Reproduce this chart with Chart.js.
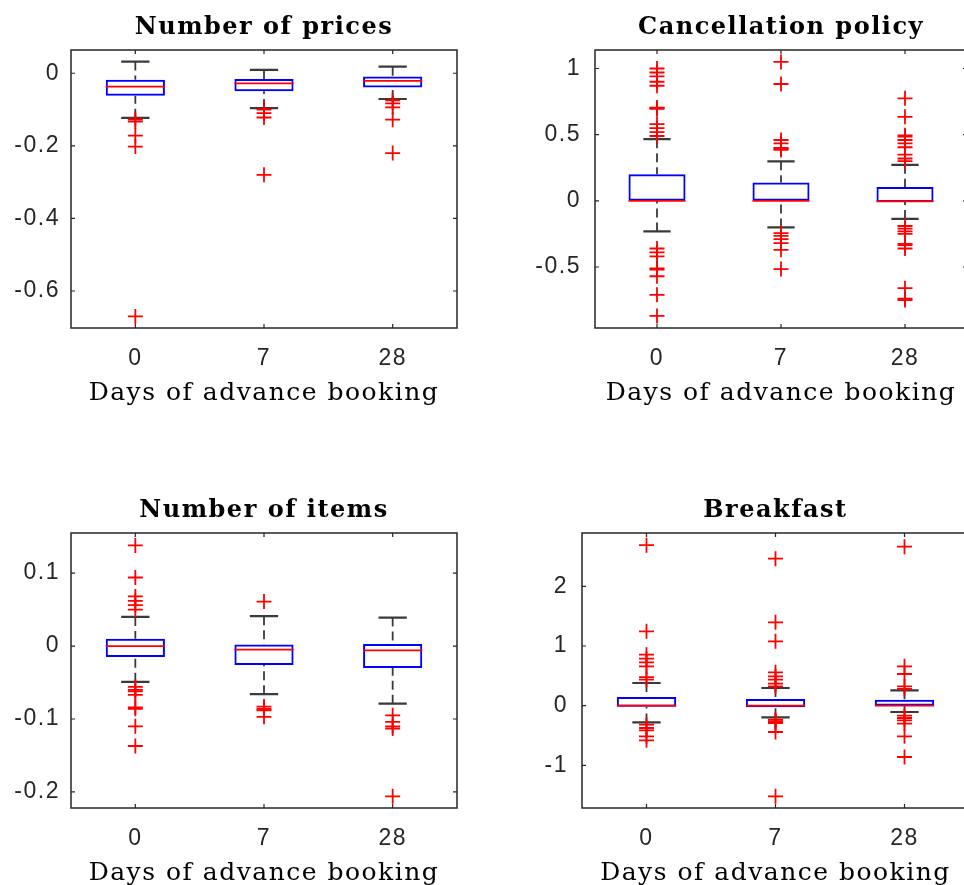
<!DOCTYPE html>
<html>
<head>
<meta charset="utf-8">
<script src="https://cdn.jsdelivr.net/npm/chart.js@4.4.0/dist/chart.umd.min.js"></script>
<style>
    html, body { margin: 0; padding: 0; background: #fff; overflow: hidden; width: 964px; height: 885px; }
    .panel { position: absolute; }
</style>
</head>
<body>
<div class="panel" style="left:0px;top:0px"><canvas id="prices" width="480" height="420"></canvas></div>
<div class="panel" style="left:480px;top:0px"><canvas id="cancel" width="500" height="420"></canvas></div>
<div class="panel" style="left:0px;top:480px"><canvas id="items" width="480" height="420"></canvas></div>
<div class="panel" style="left:480px;top:480px"><canvas id="breakfast" width="500" height="420"></canvas></div>
<script>
// Categories (days of advance booking)
const days = ['0', '7', '28'];

// Number of prices
const priceQ1 = [-0.062, -0.050, -0.039];
const priceMed = [-0.037, -0.028, -0.021];
const priceQ3 = [-0.018, -0.016, -0.009];
const priceLow = [-0.123, -0.096, -0.071];
const priceHigh = [0.032, 0.009, 0.018];
const priceOut0 = [-0.127, -0.133, -0.172, -0.202, -0.670];
const priceOut7 = [-0.100, -0.110, -0.122, -0.280];
const priceOut28 = [-0.075, -0.083, -0.094, -0.128, -0.220];
const priceTicks = [-0.6, -0.4, -0.2, 0];
const priceRange = [-0.702, 0.064];

// Cancellation policy
const cancelQ1 = [0, 0, -0.008];
const cancelMed = [0, 0, -0.003];
const cancelQ3 = [0.201, 0.138, 0.105];
const cancelLow = [-0.231, -0.201, -0.137];
const cancelHigh = [0.466, 0.299, 0.272];
const cancelOut0 = [1.0, 0.97, 0.94, 0.90, 0.87, 0.705, 0.70, 0.695, 0.58, 0.55, 0.52, 0.49,
    -0.36, -0.39, -0.42, -0.51, -0.52, -0.57, -0.71, -0.87];
const cancelOut7 = [1.05, 0.883, 0.46, 0.435, 0.40, 0.395, 0.385,
    -0.244, -0.265, -0.29, -0.32, -0.37, -0.516];
const cancelOut28 = [0.775, 0.635, 0.495, 0.485, 0.46, 0.435, 0.405, 0.35, 0.32, 0.30,
    -0.19, -0.21, -0.23, -0.25, -0.325, -0.335, -0.36, -0.66, -0.74, -0.75];
const cancelTicks = [-0.5, 0, 0.5, 1];
const cancelRange = [-0.961, 1.14];

// Number of items
const itemQ1 = [-0.015, -0.026, -0.030];
const itemMed = [0, -0.005, -0.006];
const itemQ3 = [0.010, 0.002, 0.003];
const itemLow = [-0.049, -0.066, -0.079];
const itemHigh = [0.040, 0.041, 0.039];
const itemOut0 = [0.138, 0.094, 0.068, 0.062, 0.056, 0.050,
    -0.056, -0.060, -0.062, -0.067, -0.084, -0.086, -0.110, -0.137];
const itemOut7 = [0.061, -0.083, -0.086, -0.088, -0.097];
const itemOut28 = [-0.095, -0.104, -0.110, -0.113, -0.206];
const itemTicks = [-0.2, -0.1, 0, 0.1];
const itemRange = [-0.222, 0.155];

// Breakfast
const breakQ1 = [-0.02, -0.025, 0];
const breakMed = [0, 0, 0];
const breakQ3 = [0.145, 0.112, 0.1];
const breakLow = [-0.28, -0.196, -0.106];
const breakHigh = [0.38, 0.296, 0.257];
const breakOut0 = [2.69, 1.246, 0.855, 0.788, 0.726, 0.659, 0.48, 0.436,
    -0.318, -0.374, -0.413, -0.514, -0.581];
const breakOut7 = [2.464, 1.397, 1.078, 0.559, 0.492, 0.436, 0.369, 0.324,
    -0.235, -0.26, -0.275, -0.29, -0.441, -1.52];
const breakOut28 = [2.665, 0.659, 0.531, 0.324, 0.28,
    -0.168, -0.207, -0.246, -0.302, -0.514, -0.86];
const breakTicks = [-1, 0, 1, 2];
const breakRange = [-1.715, 2.894];

const tickFont = { family: '"Liberation Sans", Arial, sans-serif', size: 23 };
const serif = '"DejaVu Serif", serif';

// Plugin that adds whiskers, caps, medians and the MATLAB style box frame
function boxExtras(box) {
    return {
        id: 'boxExtras',
        beforeDraw(chart) {
            chart.ctx.letterSpacing = '1.5px';
        },
        beforeDatasetsDraw(chart) {
            const ctx = chart.ctx;
            const x = chart.scales.x;
            const y = chart.scales.y;
            const capHalf = (x.width / days.length) * 0.11;
            ctx.save();
            ctx.strokeStyle = '#3a3a3a';
            days.forEach((d, i) => {
                const px = x.getPixelForValue(i);
                // dashed whiskers
                ctx.lineWidth = 1.8;
                ctx.setLineDash([9, 5]);
                ctx.beginPath();
                ctx.moveTo(px, y.getPixelForValue(box.high[i]));
                ctx.lineTo(px, y.getPixelForValue(box.q3[i]));
                ctx.moveTo(px, y.getPixelForValue(box.low[i]));
                ctx.lineTo(px, y.getPixelForValue(box.q1[i]));
                ctx.stroke();
                // caps
                ctx.setLineDash([]);
                ctx.lineWidth = 2.2;
                ctx.beginPath();
                [box.high[i], box.low[i]].forEach(v => {
                    const py = y.getPixelForValue(v);
                    ctx.moveTo(px - capHalf, py);
                    ctx.lineTo(px + capHalf, py);
                });
                ctx.stroke();
            });
            ctx.restore();
        },
        afterDatasetsDraw(chart) {
            const ctx = chart.ctx;
            const x = chart.scales.x;
            const y = chart.scales.y;
            const half = (x.width / days.length) * 0.46 / 2;
            ctx.save();
            ctx.strokeStyle = '#ff0000';
            ctx.lineWidth = 1.8;
            days.forEach((d, i) => {
                const px = x.getPixelForValue(i);
                const py = y.getPixelForValue(box.med[i]);
                ctx.beginPath();
                ctx.moveTo(px - half, py);
                ctx.lineTo(px + half, py);
                ctx.stroke();
            });

            // frame with inward tick marks on all four sides
            const a = chart.chartArea;
            ctx.strokeStyle = '#262626';
            ctx.lineWidth = 1.5;
            ctx.strokeRect(a.left, a.top, a.right - a.left, a.bottom - a.top);
            ctx.lineWidth = 1.2;
            ctx.beginPath();
            y.ticks.forEach(t => {
                const py = y.getPixelForValue(t.value);
                ctx.moveTo(a.left, py); ctx.lineTo(a.left + 4, py);
                ctx.moveTo(a.right, py); ctx.lineTo(a.right - 4, py);
            });
            days.forEach((d, i) => {
                const px = x.getPixelForValue(i);
                ctx.moveTo(px, a.bottom); ctx.lineTo(px, a.bottom - 4);
                ctx.moveTo(px, a.top); ctx.lineTo(px, a.top + 4);
            });
            ctx.stroke();
            ctx.restore();
        }
    };
}

// Build one boxplot panel
function createBoxPanel(canvasId, title, box, outliers, yTicks, yRange, geom) {
    const ctx = document.getElementById(canvasId).getContext('2d');

    const outlierPoints = [];
    outliers.forEach((list, i) => {
        list.forEach(v => outlierPoints.push({ x: days[i], y: v }));
    });

    new Chart(ctx, {
        type: 'bar',
        data: {
            labels: days,
            datasets: [{
                data: days.map((d, i) => [box.q1[i], box.q3[i]]),
                backgroundColor: 'rgba(0,0,0,0)',
                borderColor: '#0000ff',
                borderWidth: 2,
                borderSkipped: false,
                barPercentage: 0.46,
                categoryPercentage: 1
            }, {
                type: 'scatter',
                data: outlierPoints,
                pointStyle: 'cross',
                pointRadius: 7.5,
                pointBorderWidth: 1.8,
                borderColor: '#ff0000',
                backgroundColor: '#ff0000'
            }]
        },
        options: {
            responsive: false,
            animation: false,
            devicePixelRatio: 1,
            layout: { padding: { left: 0, right: geom.padRight, top: 0, bottom: 0 } },
            scales: {
                x: {
                    type: 'category',
                    offset: true,
                    grid: { display: false, drawTicks: false },
                    border: { display: false },
                    ticks: { color: '#262626', font: tickFont, padding: 17 },
                    title: {
                        display: true,
                        text: 'Days of advance booking',
                        color: '#000',
                        font: { family: serif, size: 25, lineHeight: '26px' },
                        padding: { top: 0, bottom: 14 }
                    },
                    afterFit: s => { s.height = 92; }
                },
                y: {
                    min: yRange[0],
                    max: yRange[1],
                    grid: { display: false, drawTicks: false },
                    border: { display: false },
                    ticks: {
                        color: '#262626',
                        font: tickFont,
                        padding: geom.tickPad,
                        callback: v => String(+v.toFixed(3))
                    },
                    afterBuildTicks: s => { s.ticks = yTicks.map(v => ({ value: v })); },
                    afterFit: s => { s.width = geom.axisWidth; }
                }
            },
            plugins: {
                legend: { display: false },
                tooltip: { enabled: false },
                title: {
                    display: true,
                    fullSize: false,
                    text: title,
                    color: '#000',
                    font: { family: serif, size: 24, weight: 'bold', lineHeight: '26px' },
                    padding: { top: geom.titleTop, bottom: geom.titleBottom }
                }
            }
        },
        plugins: [boxExtras(box)]
    });
}

document.addEventListener('DOMContentLoaded', () => {
    createBoxPanel('prices', 'Number of prices',
        { q1: priceQ1, med: priceMed, q3: priceQ3, low: priceLow, high: priceHigh },
        [priceOut0, priceOut7, priceOut28], priceTicks, priceRange,
        { axisWidth: 71, padRight: 23, tickPad: 11, titleTop: 15, titleBottom: 9 });

    createBoxPanel('cancel', 'Cancellation policy',
        { q1: cancelQ1, med: cancelMed, q3: cancelQ3, low: cancelLow, high: cancelHigh },
        [cancelOut0, cancelOut7, cancelOut28], cancelTicks, cancelRange,
        { axisWidth: 115, padRight: 13, tickPad: 14, titleTop: 15, titleBottom: 9 });

    createBoxPanel('items', 'Number of items',
        { q1: itemQ1, med: itemMed, q3: itemQ3, low: itemLow, high: itemHigh },
        [itemOut0, itemOut7, itemOut28], itemTicks, itemRange,
        { axisWidth: 71, padRight: 23, tickPad: 11, titleTop: 18, titleBottom: 9 });

    createBoxPanel('breakfast', 'Breakfast',
        { q1: breakQ1, med: breakMed, q3: breakQ3, low: breakLow, high: breakHigh },
        [breakOut0, breakOut7, breakOut28], breakTicks, breakRange,
        { axisWidth: 102, padRight: 11, tickPad: 14, titleTop: 18, titleBottom: 9 });
});
</script>
</body>
</html>
